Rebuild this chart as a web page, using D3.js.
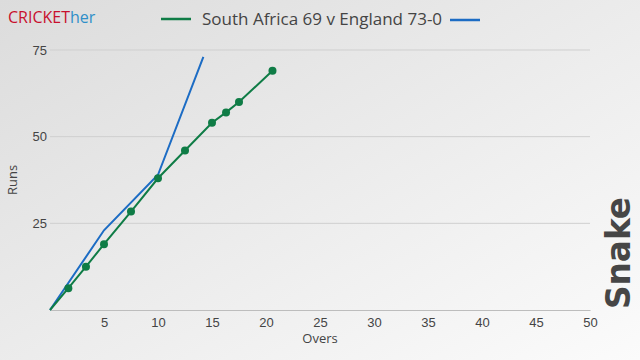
<!DOCTYPE html>
<html>
<head>
<meta charset="utf-8">
<script src="https://cdn.jsdelivr.net/npm/d3@7"></script>
<style>
  body { margin: 0; }
  svg { display: block; font-family: "Open Sans", "Noto Sans", sans-serif; }
</style>
</head>
<body>
<div id="chart"></div>
<script>
// South Africa innings (overs, runs) - with markers
const saOvers = [0, 1.7, 3.33, 5, 7.5, 10, 12.5, 15, 16.3, 17.5, 20.6]
const saRuns  = [0, 6.3, 12.5, 19, 28.4, 38, 46, 54, 57, 60, 69]
// England chase
const engOvers = [0, 5, 10, 14.2]
const engRuns  = [0, 23, 39, 73]

const xTicks = [5, 10, 15, 20, 25, 30, 35, 40, 45, 50]
const yTicks = [25, 50, 75]
const legendLabel = 'South Africa 69 v England 73-0'

let w = 640, h = 360
let margin = {left: 50, right: 50, top: 50, bottom: 50}

let svg = d3.select('#chart').append('svg').attr('width', w).attr('height', h)

// background gradient
let defs = svg.append('defs')
let grad = defs.append('linearGradient').attr('id', 'bg')
  .attr('x1', '0').attr('y1', '0').attr('x2', '1').attr('y2', '1')
grad.append('stop').attr('offset', '0%').attr('stop-color', '#dcdcdc')
grad.append('stop').attr('offset', '100%').attr('stop-color', '#fbfbfb')
svg.append('rect').attr('width', w).attr('height', h).attr('fill', 'url(#bg)')

let x = d3.scaleLinear().domain([0, 50]).range([margin.left, w - margin.right])
let y = d3.scaleLinear().domain([0, 75]).range([h - margin.bottom, margin.top])

// gridlines
svg.append('g').selectAll('line').data(yTicks).enter().append('line')
  .attr('x1', x(0)).attr('x2', x(50))
  .attr('y1', d => y(d)).attr('y2', d => y(d))
  .attr('stroke', '#cfcfcf').attr('stroke-width', 1)

// x axis
let xAxis = svg.append('g').attr('transform', `translate(0,${y(0)})`)
  .call(d3.axisBottom(x).tickValues(xTicks).tickSize(0).tickPadding(8))
xAxis.select('.domain').attr('stroke', '#bdbdbd')
xAxis.selectAll('text').attr('font-size', 13).attr('fill', '#444').attr('font-family', null)

// y axis
let yAxis = svg.append('g').attr('transform', `translate(${x(0)},0)`)
  .call(d3.axisLeft(y).tickValues(yTicks).tickSize(0).tickPadding(3))
yAxis.select('.domain').remove()
yAxis.selectAll('text').attr('font-size', 13).attr('fill', '#444').attr('font-family', null)

// axis titles
svg.append('text').attr('x', x(25)).attr('y', 343).attr('text-anchor', 'middle')
  .attr('font-size', 13).attr('fill', '#444').text('Overs')
svg.append('text').attr('transform', `translate(17,${(y(0) + y(75)) / 2}) rotate(-90)`)
  .attr('text-anchor', 'middle').attr('font-size', 13).attr('fill', '#444').text('Runs')

let line = d3.line().x(d => x(d[0])).y(d => y(d[1]))
let sa = saOvers.map((o, i) => [o, saRuns[i]])
let eng = engOvers.map((o, i) => [o, engRuns[i]])

let green = '#0f7c46', blue = '#1c6cc4'

svg.append('path').datum(eng).attr('d', line)
  .attr('fill', 'none').attr('stroke', blue).attr('stroke-width', 2)
svg.append('path').datum(sa).attr('d', line)
  .attr('fill', 'none').attr('stroke', green).attr('stroke-width', 2)
svg.append('g').selectAll('circle').data(sa.slice(1)).enter().append('circle')
  .attr('cx', d => x(d[0])).attr('cy', d => y(d[1])).attr('r', 4)
  .attr('fill', green)

// legend
svg.append('line').attr('x1', 161).attr('x2', 191).attr('y1', 19).attr('y2', 19)
  .attr('stroke', green).attr('stroke-width', 2.5)
svg.append('text').attr('x', 202).attr('y', 25).attr('font-size', 17).attr('fill', '#444')
  .text(legendLabel)
svg.append('line').attr('x1', 450).attr('x2', 480).attr('y1', 20).attr('y2', 20)
  .attr('stroke', blue).attr('stroke-width', 2.5)

// branding
let brand = svg.append('text').attr('x', 8).attr('y', 23).attr('font-size', 16)
brand.append('tspan').attr('fill', '#c8102e').text('CRICKET')
brand.append('tspan').attr('fill', '#2f8fc9').text('her')

svg.append('text').attr('transform', 'translate(630,253) rotate(-90)')
  .attr('text-anchor', 'middle').attr('font-size', 33).attr('font-weight', 'bold')
  .attr('textLength', 112).attr('lengthAdjust', 'spacingAndGlyphs')
  .attr('fill', '#464646').attr('font-family', '"DejaVu Sans", sans-serif').text('Snake')
</script>
</body>
</html>
